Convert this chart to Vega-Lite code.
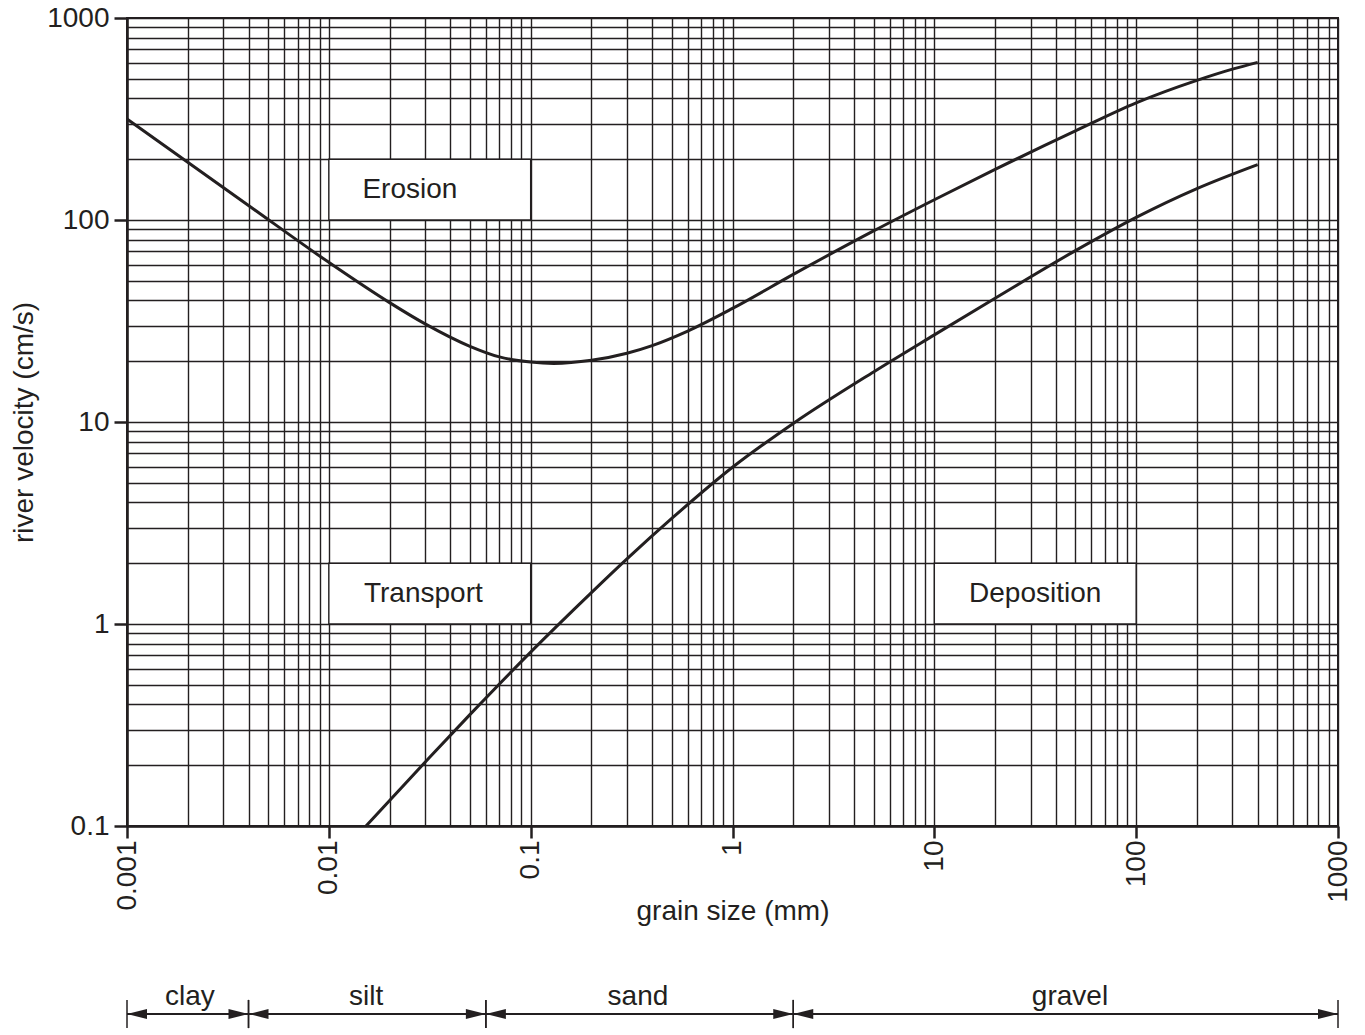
{
  "$schema": "https://vega.github.io/schema/vega-lite/v6.json",
  "padding": {"left": 9, "top": 3, "right": 12, "bottom": 0},
  "background": "white",
  "config": {
    "font": "Liberation Sans",
    "view": {"stroke": null},
    "text": {"color": "#231f20"}
  },
  "spacing": 40,
  "vconcat": [
    {
      "width": 1211,
      "height": 808,
      "view": {"stroke": "#231f20", "strokeWidth": 2},
      "layer": [
        {
          "data": {"values": [
            {"label": "Erosion", "x1": 0.01, "x2": 0.1, "y1": 100, "y2": 200},
            {"label": "Transport", "x1": 0.01, "x2": 0.1, "y1": 1, "y2": 2},
            {"label": "Deposition", "x1": 10, "x2": 100, "y1": 1, "y2": 2}
          ]},
          "mark": {"type": "rect", "fill": "white", "stroke": "#231f20", "strokeWidth": 1.4},
          "encoding": {
            "x": {
              "field": "x1", "type": "quantitative",
              "scale": {"type": "log", "domain": [0.001, 1000], "nice": false},
              "axis": {
                "values": [0.001,0.002,0.003,0.004,0.005,0.006,0.007,0.008,0.009,0.01,0.02,0.03,0.04,0.05,0.06,0.07,0.08,0.09,0.1,0.2,0.3,0.4,0.5,0.6,0.7,0.8,0.9,1,2,3,4,5,6,7,8,9,10,20,30,40,50,60,70,80,90,100,200,300,400,500,600,700,800,900,1000],
                "grid": true, "gridColor": "#231f20", "gridWidth": 1.4, "gridOpacity": 1,
                "domainColor": "#231f20", "domainWidth": 2.5,
                "tickColor": "#231f20", "tickWidth": 2.5, "tickSize": 12,
                "tickOpacity": {"condition": {"test": "abs(log(datum.value)/LN10 - round(log(datum.value)/LN10)) < 1e-6", "value": 1}, "value": 0},
                "labelExpr": "abs(log(datum.value)/LN10 - round(log(datum.value)/LN10)) < 1e-6 ? datum.value + '' : ''",
                "labelAngle": -90, "labelFontSize": 28, "labelColor": "#231f20", "labelPadding": 2,
                "labelOverlap": false, "labelFlush": false, "labelBound": false,
                "title": "grain size (mm)", "titleFontSize": 28, "titleFontWeight": "normal", "titleColor": "#231f20",
                "titleY": 71
              }
            },
            "x2": {"field": "x2"},
            "y": {
              "field": "y1", "type": "quantitative",
              "scale": {"type": "log", "domain": [0.1, 1000], "nice": false},
              "axis": {
                "values": [0.1,0.2,0.3,0.4,0.5,0.6,0.7,0.8,0.9,1,2,3,4,5,6,7,8,9,10,20,30,40,50,60,70,80,90,100,200,300,400,500,600,700,800,900,1000],
                "grid": true, "gridColor": "#231f20", "gridWidth": 1.4, "gridOpacity": 1,
                "domainColor": "#231f20", "domainWidth": 2.5,
                "tickColor": "#231f20", "tickWidth": 2.5, "tickSize": 13,
                "tickOpacity": {"condition": {"test": "abs(log(datum.value)/LN10 - round(log(datum.value)/LN10)) < 1e-6", "value": 1}, "value": 0},
                "labelExpr": "abs(log(datum.value)/LN10 - round(log(datum.value)/LN10)) < 1e-6 ? datum.value + '' : ''",
                "labelFontSize": 28, "labelColor": "#231f20", "labelPadding": 5,
                "labelOverlap": false, "labelFlush": false, "labelBound": false,
                "title": "river velocity (cm/s)", "titleFontSize": 28, "titleFontWeight": "normal", "titleColor": "#231f20",
                "titlePadding": 8
              }
            },
            "y2": {"field": "y2"}
          }
        },
        {
          "data": {"values": [
            {"label": "Erosion", "tx": 0.0252, "ty": 141},
            {"label": "Transport", "tx": 0.0294, "ty": 1.414},
            {"label": "Deposition", "tx": 31.6, "ty": 1.414}
          ]},
          "mark": {"type": "text", "fontSize": 28, "align": "center", "baseline": "middle", "color": "#231f20"},
          "encoding": {
            "x": {"field": "tx", "type": "quantitative"},
            "y": {"field": "ty", "type": "quantitative"},
            "text": {"field": "label"}
          }
        },
        {
          "data": {"values": [
            {"curve": "erosion", "size": 0.001, "v": 316},
            {"curve": "erosion", "size": 0.002, "v": 193},
            {"curve": "erosion", "size": 0.004, "v": 118},
            {"curve": "erosion", "size": 0.01, "v": 61.7},
            {"curve": "erosion", "size": 0.02, "v": 39},
            {"curve": "erosion", "size": 0.03, "v": 30.6},
            {"curve": "erosion", "size": 0.05, "v": 23.7},
            {"curve": "erosion", "size": 0.07, "v": 21.0},
            {"curve": "erosion", "size": 0.1, "v": 19.8},
            {"curve": "erosion", "size": 0.13, "v": 19.5},
            {"curve": "erosion", "size": 0.2, "v": 20.2},
            {"curve": "erosion", "size": 0.3, "v": 21.9},
            {"curve": "erosion", "size": 0.4, "v": 23.9},
            {"curve": "erosion", "size": 0.6, "v": 28.2},
            {"curve": "erosion", "size": 1, "v": 36.5},
            {"curve": "erosion", "size": 2, "v": 53.8},
            {"curve": "erosion", "size": 5, "v": 88.3},
            {"curve": "erosion", "size": 10, "v": 126},
            {"curve": "erosion", "size": 20, "v": 178},
            {"curve": "erosion", "size": 50, "v": 276},
            {"curve": "erosion", "size": 100, "v": 380},
            {"curve": "erosion", "size": 200, "v": 491},
            {"curve": "erosion", "size": 300, "v": 558},
            {"curve": "erosion", "size": 400, "v": 603},
            {"curve": "deposition", "size": 0.0153, "v": 0.1},
            {"curve": "deposition", "size": 0.0316, "v": 0.219},
            {"curve": "deposition", "size": 0.05, "v": 0.356},
            {"curve": "deposition", "size": 0.1, "v": 0.726},
            {"curve": "deposition", "size": 0.2, "v": 1.43},
            {"curve": "deposition", "size": 0.3, "v": 2.10},
            {"curve": "deposition", "size": 0.5, "v": 3.33},
            {"curve": "deposition", "size": 1, "v": 5.97},
            {"curve": "deposition", "size": 2, "v": 9.84},
            {"curve": "deposition", "size": 5, "v": 17.7},
            {"curve": "deposition", "size": 10, "v": 27},
            {"curve": "deposition", "size": 20, "v": 41},
            {"curve": "deposition", "size": 50, "v": 70.5},
            {"curve": "deposition", "size": 100, "v": 103},
            {"curve": "deposition", "size": 200, "v": 143},
            {"curve": "deposition", "size": 400, "v": 188}
          ]},
          "mark": {"type": "line", "color": "#231f20", "strokeWidth": 3, "interpolate": "monotone"},
          "encoding": {
            "x": {"field": "size", "type": "quantitative"},
            "y": {"field": "v", "type": "quantitative"},
            "detail": {"field": "curve"}
          }
        }
      ]
    },
    {
      "width": 1211,
      "height": 64,
      "view": {"stroke": null},
      "data": {"values": [
        {"cls": "clay", "start": 0.001, "end": 0.004, "mid": 0.00205},
        {"cls": "silt", "start": 0.004, "end": 0.06, "mid": 0.0153},
        {"cls": "sand", "start": 0.06, "end": 2, "mid": 0.34},
        {"cls": "gravel", "start": 2, "end": 1000, "mid": 47}
      ]},
      "layer": [
        {
          "mark": {"type": "rule", "color": "#231f20", "strokeWidth": 2},
          "encoding": {
            "x": {"field": "start", "type": "quantitative", "scale": {"type": "log", "domain": [0.001, 1000], "nice": false}, "axis": null},
            "x2": {"field": "end"},
            "y": {"datum": 0.25, "type": "quantitative", "scale": {"domain": [0, 1]}, "axis": null}
          }
        },
        {
          "mark": {"type": "rule", "color": "#231f20", "strokeWidth": 1.5},
          "encoding": {
            "x": {"field": "start", "type": "quantitative"},
            "y": {"datum": 0.03, "type": "quantitative"},
            "y2": {"datum": 0.47}
          }
        },
        {
          "mark": {"type": "rule", "color": "#231f20", "strokeWidth": 1.5},
          "encoding": {
            "x": {"field": "end", "type": "quantitative"},
            "y": {"datum": 0.03, "type": "quantitative"},
            "y2": {"datum": 0.47}
          }
        },
        {
          "mark": {"type": "point", "shape": "M0,0L2,-0.5L2,0.5Z", "size": 400, "filled": true, "color": "#231f20", "opacity": 1},
          "encoding": {
            "x": {"field": "start", "type": "quantitative"},
            "y": {"datum": 0.25, "type": "quantitative"}
          }
        },
        {
          "mark": {"type": "point", "shape": "M0,0L-2,-0.5L-2,0.5Z", "size": 400, "filled": true, "color": "#231f20", "opacity": 1},
          "encoding": {
            "x": {"field": "end", "type": "quantitative"},
            "y": {"datum": 0.25, "type": "quantitative"}
          }
        },
        {
          "mark": {"type": "text", "fontSize": 28, "align": "center", "baseline": "alphabetic", "color": "#231f20"},
          "encoding": {
            "x": {"field": "mid", "type": "quantitative"},
            "y": {"datum": 0.39, "type": "quantitative"},
            "text": {"field": "cls"}
          }
        }
      ]
    }
  ]
}
